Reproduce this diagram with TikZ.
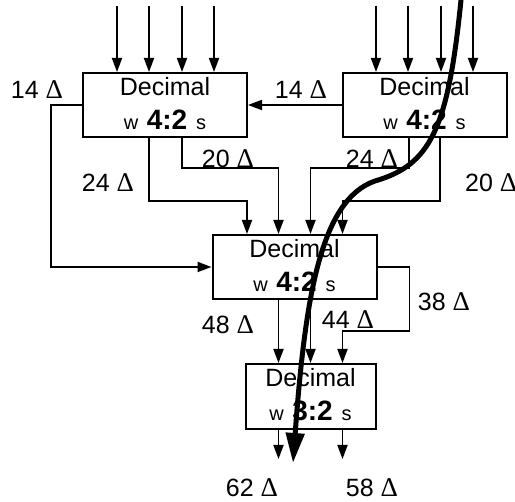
\documentclass[tikz,border=0pt]{standalone}
\usepackage{fontspec}
\setmainfont{Liberation Sans}
\newfontfamily\deltafont{Liberation Serif}
\usetikzlibrary{arrows.meta,calc}
\newcommand{\dl}{{\deltafont\fontsize{27}{30}\selectfont Δ}}
\begin{document}
\begin{tikzpicture}[x=1pt,y=-1pt,
  box/.style={draw, line width=2pt, minimum width=164pt, minimum height=64pt, inner sep=0pt},
  wire/.style={line width=1.8pt},
  arr/.style={wire, -{Triangle[length=14pt,width=10pt]}},
  lab/.style={font=\fontsize{25}{30}\selectfont, inner sep=0pt},
  ttl/.style={font=\fontsize{25}{30}\selectfont, anchor=base, inner sep=0pt},
  ratio/.style={font=\fontsize{28}{32}\bfseries\selectfont, anchor=base, inner sep=0pt},
  port/.style={font=\fontsize{20}{24}\selectfont, anchor=base, inner sep=0pt},
  critpath/.style={line width=5pt, -{Triangle[length=30pt,width=18pt]}}
]
\useasboundingbox (0,0) rectangle (515,502);

\node[box] (b1) at (165,105) {};
\node[box] (b2) at (424.5,105) {};
\node[box] (b3) at (294.5,267) {};
\node[box, minimum width=130pt, minimum height=65pt] (b4) at (310.5,396.5) {};

\foreach \b/\r in {b1/4:2, b2/4:2, b3/4:2, b4/3:2} {
  \node[ttl] (\b-t) at ($(\b.north)+(0,24)$) {Decimal};
  \node[ratio] (\b-r) at ($(\b.north)+(2,58)$) {\r};
  \node[port] (\b-w) at ($(\b.north)+(-34,58)$) {w};
  \node[port] (\b-s) at ($(\b.north)+(36,58)$) {s};
}

% inputs
\foreach \x in {117,149,182,214} {
  \coordinate (ia\x) at (\x,6);
  \draw[arr] (ia\x) -- (ia\x |- b1.north);
}
\foreach \x in {376,408,441,473} {
  \coordinate (ib\x) at (\x,6);
  \draw[arr] (ib\x) -- (ib\x |- b2.north);
}

% connections
\draw[arr] (b2.west) -- (b1.east);
\draw[arr] (b1.west) -- ++(-31,0) |- (b3.west);
\draw[arr] ([xshift=-16pt]b1.south) |- ([xshift=-47.5pt,yshift=33pt]b3.north) -- ([xshift=-47.5pt]b3.north);
\draw[arr] ([xshift=17pt]b1.south) |- ([xshift=-16pt,yshift=66pt]b3.north) -- ([xshift=-16pt]b3.north);
\draw[arr] ([xshift=-15.5pt]b2.south) |- ([xshift=16pt,yshift=66pt]b3.north) -- ([xshift=16pt]b3.north);
\draw[arr] ([xshift=15.5pt]b2.south) |- ([xshift=48pt,yshift=33pt]b3.north) -- ([xshift=48pt]b3.north);

\draw[arr] ([xshift=-16pt]b3.south) -- ([xshift=-32pt]b4.north);
\draw[arr] ([xshift=16pt]b3.south) -- (b4.north);
\draw[arr] (b3.east) -- ++(32,0) |- ([xshift=32pt,yshift=32pt]b4.north) -- ([xshift=32pt]b4.north);

\coordinate (o1) at (278.5,459);
\coordinate (o2) at (342.5,459);
\draw[arr] ([xshift=-32pt]b4.south) -- (o1);
\draw[arr] ([xshift=32pt]b4.south) -- (o2);

% labels
\node[lab] (l14a) at (37,90) {14 \dl};
\node[lab] (l14b) at (301,90) {14 \dl};
\node[lab] (l20a) at (228,159) {20 \dl};
\node[lab] (l24a) at (108,183) {24 \dl};
\node[lab] (l24b) at (372,159) {24 \dl};
\node[lab, anchor=west] (l20b) at (465,183) {20 \dl};
\node[lab] (l48) at (228,325) {48 \dl};
\node[lab] (l44) at (348,320) {44 \dl};
\node[lab] (l38) at (444,302) {38 \dl};
\node[lab] (l62) at (252,488) {62 \dl};
\node[lab] (l58) at (372,488) {58 \dl};

% critical path
\coordinate (cp0) at (461,0);
\coordinate (cp1) at (375,181);
\coordinate (cp2) at (293,463);
\draw[critpath] (cp0) .. controls (448,130) and (430,165) .. (cp1) .. controls (320,200) and (305,300) .. (cp2);
\end{tikzpicture}
\end{document}
